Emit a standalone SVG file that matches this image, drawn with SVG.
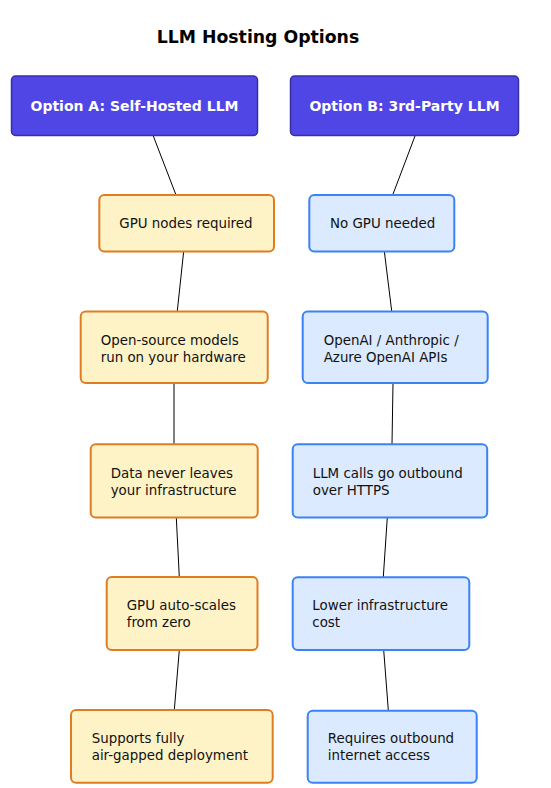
<svg xmlns="http://www.w3.org/2000/svg" width="551" height="788" viewBox="0 0 551 788">
<style>
.title{font-family:"DejaVu Sans","Liberation Sans",sans-serif;font-weight:bold;font-size:17.3px;fill:#000;text-anchor:middle}
.hdr rect{fill:#4f46e5;stroke:#3730a3;stroke-width:1.5}
.hdr text{font-family:"DejaVu Sans","Liberation Sans",sans-serif;font-weight:bold;font-size:14px;fill:#fff;text-anchor:middle}
.a rect{fill:#fef3c7;stroke:#e07d22;stroke-width:2}
.b rect{fill:#dbeafe;stroke:#3b82f6;stroke-width:2}
.a text,.b text{font-family:"DejaVu Sans","Liberation Sans",sans-serif;font-size:13.4px;fill:#111}
.edges line{stroke:#000;stroke-width:1}
</style>
<rect width="551" height="788" fill="#fff"/>
<text class="title" x="258" y="43">LLM Hosting Options</text>
<g class="edges" id="connectors">
<line x1="153.3" y1="136" x2="176" y2="195"/>
<line x1="183.7" y1="251" x2="177.3" y2="311"/>
<line x1="174" y1="383" x2="174" y2="444"/>
<line x1="176.3" y1="517.5" x2="179.3" y2="577"/>
<line x1="179.3" y1="650" x2="174.3" y2="710"/>
<line x1="415" y1="136" x2="392.7" y2="195"/>
<line x1="384.3" y1="251" x2="391.7" y2="311"/>
<line x1="393" y1="383" x2="392" y2="444"/>
<line x1="387.3" y1="517.5" x2="383.3" y2="577"/>
<line x1="383.7" y1="650" x2="388.3" y2="710"/>
</g>
<g class="hdr" id="optA"><rect x="11.5" y="76" width="246" height="59.5" rx="4"/><text x="134.5" y="111">Option A: Self-Hosted LLM</text></g>
<g class="hdr" id="optB"><rect x="290.5" y="76" width="228" height="59.5" rx="4"/><text x="404.5" y="111">Option B: 3rd-Party LLM</text></g>
<g class="a" id="a1"><rect x="99.3" y="195" width="174.7" height="56.5" rx="5"/><text x="119.3" y="228">GPU nodes required</text></g>
<g class="a" id="a2"><rect x="80.7" y="311.5" width="187" height="71.5" rx="5"/><text x="100.7" y="344.5">Open-source models</text><text x="100.7" y="361.5">run on your hardware</text></g>
<g class="a" id="a3"><rect x="90.7" y="444.3" width="167" height="73.2" rx="5"/><text x="110.7" y="477.7">Data never leaves</text><text x="110.7" y="494.5">your infrastructure</text></g>
<g class="a" id="a4"><rect x="106.7" y="577" width="150.8" height="73" rx="5"/><text x="126.7" y="610.3">GPU auto-scales</text><text x="126.7" y="627">from zero</text></g>
<g class="a" id="a5"><rect x="71" y="710" width="201.7" height="72.7" rx="5"/><text x="91.7" y="743.3">Supports fully</text><text x="91.7" y="760">air-gapped deployment</text></g>
<g class="b" id="b1"><rect x="309.3" y="195" width="145" height="56.5" rx="5"/><text x="330" y="228">No GPU needed</text></g>
<g class="b" id="b2"><rect x="302.7" y="311.5" width="185" height="71.5" rx="5"/><text x="323.7" y="344.5">OpenAI / Anthropic /</text><text x="323.7" y="361.5">Azure OpenAI APIs</text></g>
<g class="b" id="b3"><rect x="292.7" y="444.3" width="194.5" height="73.2" rx="5"/><text x="312.7" y="477.7">LLM calls go outbound</text><text x="312.7" y="494.5">over HTTPS</text></g>
<g class="b" id="b4"><rect x="292.7" y="577.3" width="176.6" height="72.7" rx="5"/><text x="312.3" y="610.3">Lower infrastructure</text><text x="312.3" y="627">cost</text></g>
<g class="b" id="b5"><rect x="307.7" y="710.7" width="169" height="72" rx="5"/><text x="327.7" y="743.3">Requires outbound</text><text x="327.7" y="760">internet access</text></g>
</svg>
